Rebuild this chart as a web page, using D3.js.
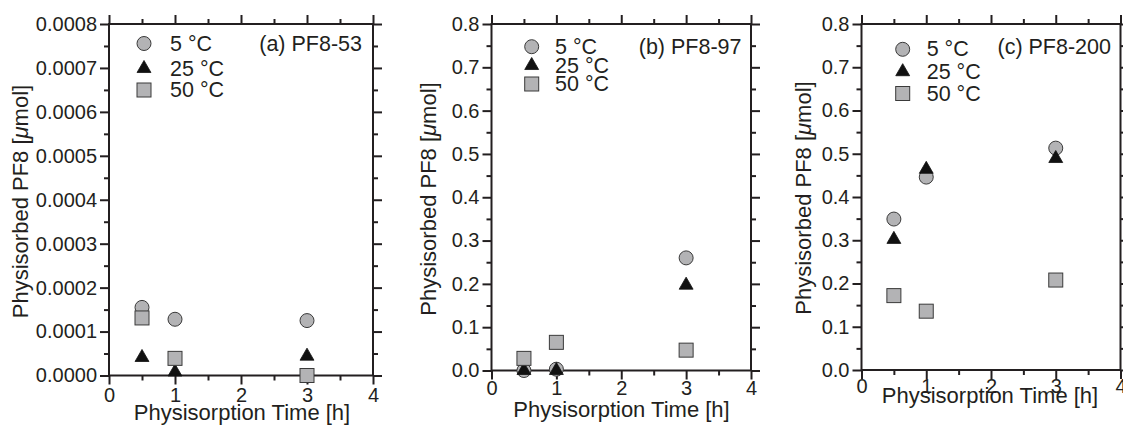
<!DOCTYPE html>
<html>
<head>
<meta charset="utf-8">
<script src="https://cdn.jsdelivr.net/npm/d3@7"></script>
<style>
  body { margin: 0; background: #fff; }
  svg { display: block; }
  text { font-family: "Liberation Sans", Arial, Helvetica, sans-serif; fill: #231f20; }
</style>
</head>
<body>
<svg id="chart" width="1123" height="425"></svg>
<script>
// ---------------- data ----------------
const timesH = [0.5, 1, 3];
const seriesLabels = ["5 °C", "25 °C", "50 °C"];
const panelTitles = ["(a) PF8-53", "(b) PF8-97", "(c) PF8-200"];

// (a) PF8-53
const pf53_5C  = [0.000155, 0.000128, 0.000125];
const pf53_25C = [0.000041, 0.000008, 0.000044];
const pf53_50C = [0.000131, 0.000039, 0.000000];
// (b) PF8-97
const pf97_5C  = [0.000, 0.003, 0.260];
const pf97_25C = [0.000, 0.000, 0.197];
const pf97_50C = [0.028, 0.065, 0.047];
// (c) PF8-200
const pf200_5C  = [0.349, 0.446, 0.513];
const pf200_25C = [0.302, 0.464, 0.489];
const pf200_50C = [0.172, 0.136, 0.208];

const xTicks = [0, 1, 2, 3, 4];
const xMinorTicks = [0.5, 1.5, 2.5, 3.5];
const yTicksA = [0, 0.0001, 0.0002, 0.0003, 0.0004, 0.0005, 0.0006, 0.0007, 0.0008];
const yTicksBC = [0, 0.1, 0.2, 0.3, 0.4, 0.5, 0.6, 0.7, 0.8];
const xLabel = "Physisorption Time [h]";

// ---------------- layout ----------------
const ink = "#231f20";
const grayFill = "#b3b3b5";
const panels = [
  { title: panelTitles[0], series: [pf53_5C, pf53_25C, pf53_50C], yTicks: yTicksA, fmt: d3.format(".4f"),
    left: 109, right: 373, top: 24, bottom: 375.5, xPad: 3.5,
    xTitle: [242, 419.5], yTitle: [27.5, 201.5], titleAt: [362, 44],
    legend: { mx: 144, tx: 170, ys: [43.5, 68.5, 90] } },
  { title: panelTitles[1], series: [pf97_5C, pf97_25C, pf97_50C], yTicks: yTicksBC, fmt: d3.format(".1f"),
    left: 491.5, right: 751, top: 24, bottom: 370.5, xPad: 1.5,
    xTitle: [621.5, 417], yTitle: [435.5, 199], titleAt: [741.5, 46.5],
    legend: { mx: 531.7, tx: 555, ys: [46.7, 65.5, 84] } },
  { title: panelTitles[2], series: [pf200_5C, pf200_25C, pf200_50C], yTicks: yTicksBC, fmt: d3.format(".1f"),
    left: 861.5, right: 1120.5, top: 24, bottom: 370, xPad: -0.5,
    xTitle: [990, 403], yTitle: [810.5, 198], titleAt: [1111, 46.5],
    legend: { mx: 902.7, tx: 926.7, ys: [49.3, 71.7, 93.5] } }
];

const svg = d3.select("#chart");

function marker(g, kind, x, y) {
  if (kind === 0) {
    g.append("circle").attr("cx", x).attr("cy", y).attr("r", 7)
      .attr("fill", grayFill).attr("stroke", "#3a3a3a").attr("stroke-width", 1);
  } else if (kind === 1) {
    g.append("path").attr("transform", `translate(${x},${y})`)
      .attr("d", d3.symbol(d3.symbolTriangle, 84)())
      .attr("fill", "#111").attr("stroke", "#111").attr("stroke-width", 0.8);
  } else {
    g.append("rect").attr("x", x - 7).attr("y", y - 7).attr("width", 14).attr("height", 14)
      .attr("fill", grayFill).attr("stroke", "#3a3a3a").attr("stroke-width", 1);
  }
}

panels.forEach(p => {
  const g = svg.append("g");
  const x = d3.scaleLinear().domain([0, 4]).range([p.left, p.right]);
  const yMax = p.yTicks[p.yTicks.length - 1];
  const y = d3.scaleLinear().domain([0, yMax]).range([p.bottom, p.top]);
  const step = p.yTicks[1] - p.yTicks[0];
  const yMinor = p.yTicks.slice(0, -1).map(v => v + step / 2);

  const styleAxis = sel => {
    sel.select(".domain").remove();
    sel.selectAll("line").attr("stroke", ink).attr("stroke-width", 2);
    sel.selectAll("text").attr("font-size", 20).attr("fill", ink)
      .attr("font-family", '"Liberation Sans", Arial, sans-serif');
  };

  // major axes
  g.append("g").attr("transform", `translate(${p.left},0)`)
    .call(d3.axisLeft(y).tickValues(p.yTicks).tickFormat(p.fmt).tickSize(9).tickPadding(3)).call(styleAxis);
  g.append("g").attr("transform", `translate(${p.right},0)`)
    .call(d3.axisRight(y).tickValues(p.yTicks).tickFormat("").tickSize(9)).call(styleAxis);
  g.append("g").attr("transform", `translate(0,${p.bottom})`)
    .call(d3.axisBottom(x).tickValues(xTicks).tickFormat(d3.format("d")).tickSize(9).tickPadding(p.xPad)).call(styleAxis);
  g.append("g").attr("transform", `translate(0,${p.top})`)
    .call(d3.axisTop(x).tickValues(xTicks).tickFormat("").tickSize(9)).call(styleAxis);
  // minor ticks
  g.append("g").attr("transform", `translate(${p.left},0)`)
    .call(d3.axisLeft(y).tickValues(yMinor).tickFormat("").tickSize(5)).call(styleAxis);
  g.append("g").attr("transform", `translate(${p.right},0)`)
    .call(d3.axisRight(y).tickValues(yMinor).tickFormat("").tickSize(5)).call(styleAxis);
  g.append("g").attr("transform", `translate(0,${p.bottom})`)
    .call(d3.axisBottom(x).tickValues(xMinorTicks).tickFormat("").tickSize(5)).call(styleAxis);
  g.append("g").attr("transform", `translate(0,${p.top})`)
    .call(d3.axisTop(x).tickValues(xMinorTicks).tickFormat("").tickSize(5)).call(styleAxis);

  // frame
  g.append("rect").attr("x", p.left).attr("y", p.top)
    .attr("width", p.right - p.left).attr("height", p.bottom - p.top)
    .attr("fill", "none").attr("stroke", ink).attr("stroke-width", 2);

  // data markers: circles, then triangles, then squares
  p.series.forEach((vals, k) => {
    vals.forEach((v, i) => marker(g, k, x(timesH[i]), y(v)));
  });

  // legend
  seriesLabels.forEach((lab, k) => {
    marker(g, k, p.legend.mx, p.legend.ys[k]);
    g.append("text").attr("x", p.legend.tx).attr("y", p.legend.ys[k])
      .attr("dominant-baseline", "central").attr("font-size", 21.5).text(lab);
  });

  // panel title
  g.append("text").attr("x", p.titleAt[0]).attr("y", p.titleAt[1])
    .attr("text-anchor", "end").attr("dominant-baseline", "central")
    .attr("font-size", 21.5).text(p.title);

  // axis titles
  g.append("text").attr("x", p.xTitle[0]).attr("y", p.xTitle[1])
    .attr("text-anchor", "middle").attr("font-size", 22).text(xLabel);
  const yt = g.append("text")
    .attr("transform", `translate(${p.yTitle[0]},${p.yTitle[1]}) rotate(-90)`)
    .attr("text-anchor", "middle").attr("font-size", 22);
  yt.append("tspan").text("Physisorbed PF8 [");
  yt.append("tspan").attr("font-style", "italic").text("μ");
  yt.append("tspan").text("mol]");
});
</script>
</body>
</html>
